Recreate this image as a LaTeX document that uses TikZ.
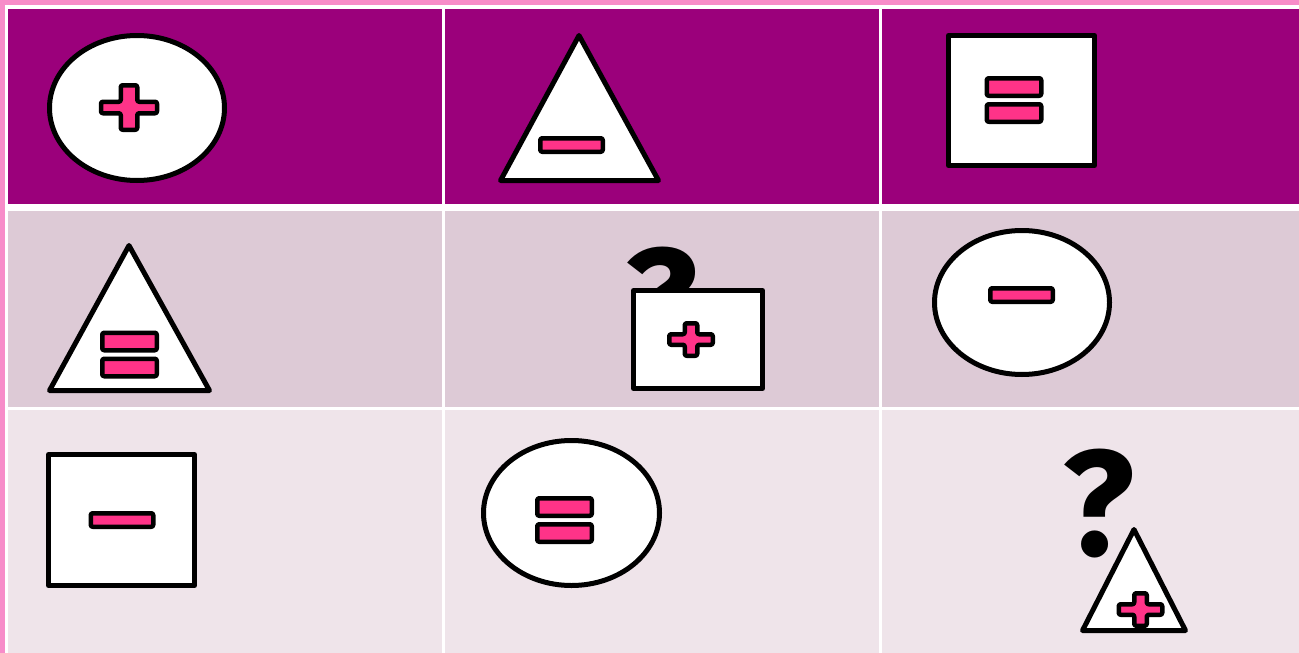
\documentclass[tikz,border=0pt]{standalone}
\usepackage{fontspec}
\newfontfamily\qfont{Fira Sans}
\definecolor{frame}{HTML}{F78CC9}
\definecolor{rowa}{HTML}{9B007B}
\definecolor{rowb}{HTML}{DDCAD6}
\definecolor{rowc}{HTML}{EFE4EA}
\definecolor{sym}{HTML}{FF3388}
\tikzset{
  shapeline/.style={draw=black,fill=white,line width=5pt,line join=round},
  symline/.style={draw=black,fill=sym,line width=4.5pt,line join=round,rounded corners=2pt},
  qmark/.style={inner sep=0pt,font=\qfont\bfseries\fontsize{150}{150}\selectfont},
  bigplus/.pic={\path[symline] (-28,-5.75) -- (-8.25,-5.75) -- (-8.25,-22.25) -- (8.25,-22.25) -- (8.25,-5.75) -- (28,-5.75) -- (28,5.75) -- (8.25,5.75) -- (8.25,22.25) -- (-8.25,22.25) -- (-8.25,5.75) -- (-28,5.75) -- cycle;},
  smallplus/.pic={\path[symline] (-21.75,-5.25) -- (-6.25,-5.25) -- (-6.25,-16.25) -- (6.25,-16.25) -- (6.25,-5.25) -- (21.75,-5.25) -- (21.75,5.25) -- (6.25,5.25) -- (6.25,16.25) -- (-6.25,16.25) -- (-6.25,5.25) -- (-21.75,5.25) -- cycle;},
  minussym/.pic={\path[symline] (-31.25,-6.75) rectangle (31.25,6.75);},
  equalsym/.pic={\path[symline] (-27.25,-21.75) rectangle (27.25,-4.25);
                 \path[symline] (-27.25,4.25) rectangle (27.25,21.75);}
}
\begin{document}
\begin{tikzpicture}[x=1pt,y=-1pt]
\useasboundingbox (0,0) rectangle (1299,653);
% frame and cells
\fill[frame] (0,0) rectangle (1299,653);
\fill[white] (5,5) rectangle (1299,653);
\foreach \xa/\xb in {8/442,445/879,882/1299}{
  \fill[rowa] (\xa,9) rectangle (\xb,204);
  \fill[rowb] (\xa,211) rectangle (\xb,407);
  \fill[rowc] (\xa,410) rectangle (\xb,653);
}
% row 1
\path[shapeline] (137,108) ellipse [x radius=87.5, y radius=72.5];
\pic at (129,107.5) {bigplus};
\path[shapeline] (579,35.5) -- (658.5,180.5) -- (500.5,180.5) -- cycle;
\pic at (571.5,145) {minussym};
\path[shapeline] (948.5,35.5) rectangle (1094.5,165.5);
\pic at (1014,100) {equalsym};
% row 2
\path[shapeline] (129,245.5) -- (209.5,390.5) -- (49.5,390.5) -- cycle;
\pic at (129.5,354.5) {equalsym};
\node[qmark,anchor=base] (q1) at (661.5,353) {?};
\path[shapeline] (633.5,290.5) rectangle (762.5,388.5);
\pic at (691,339.5) {smallplus};
\path[shapeline] (1022,302.5) ellipse [x radius=87.5, y radius=72];
\pic at (1021.5,295) {minussym};
% row 3
\path[shapeline] (48.5,454.5) rectangle (194.5,585.5);
\pic at (122,520) {minussym};
\path[shapeline] (571.5,513) ellipse [x radius=88, y radius=72.5];
\pic at (564.5,520) {equalsym};
\node[qmark,anchor=base] (q2) at (1098.5,555) {?};
\path[shapeline] (1134,529.5) -- (1185.5,630.5) -- (1082.5,630.5) -- cycle;
\pic at (1140.5,609.5) {smallplus};
\end{tikzpicture}
\end{document}
